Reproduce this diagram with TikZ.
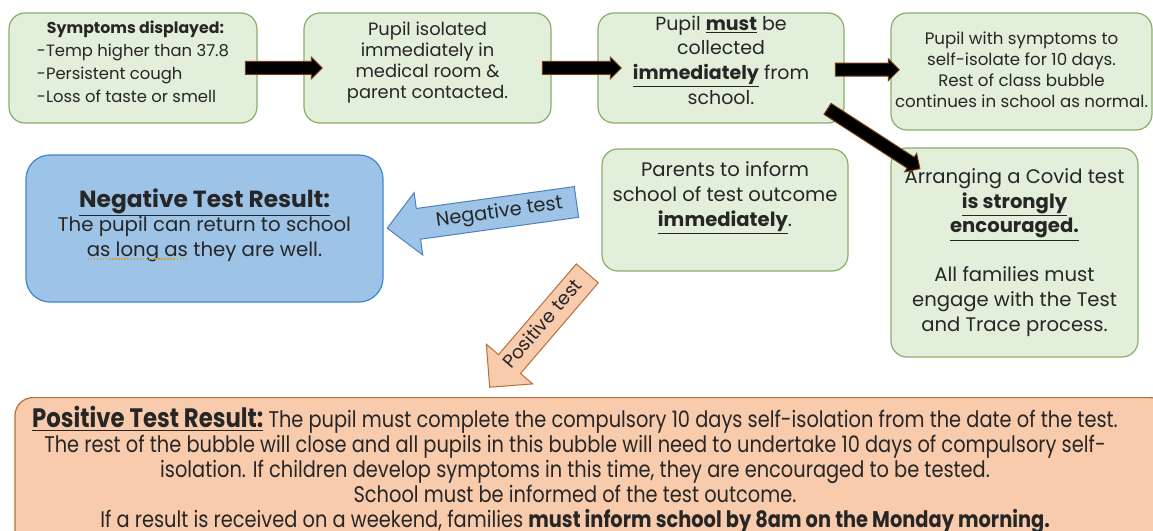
\documentclass[tikz,border=0pt]{standalone}
\usepackage{fontspec}
\setmainfont{Poppins}
\newfontfamily\narrowfont[FakeStretch=0.855]{Poppins}
\usetikzlibrary{shapes.arrows}

\newlength{\px}\setlength{\px}{0.75pt}
\definecolor{gfill}{HTML}{E2EFDA}
\definecolor{gline}{HTML}{8AAE6A}
\definecolor{bfill}{HTML}{9DC3E6}
\definecolor{bline}{HTML}{3F87CF}
\definecolor{negline}{HTML}{4F81BD}
\definecolor{ofill}{HTML}{F8CBAD}
\definecolor{oline}{HTML}{B56F3E}
\definecolor{blkline}{HTML}{7A3B10}
\definecolor{spell}{HTML}{C8A040}
\definecolor{txt}{HTML}{262626}

% dotted spell-check line under a few words
\newcommand{\spellul}[1]{\setbox0\hbox{#1}\leavevmode\rlap{\copy0}\raisebox{-3.5\px}{\textcolor{spell}{\hbox to \wd0{\xleaders\hbox to 3\px{\hss\rule{1.5\px}{1.5\px}\hss}\hfill}}}}

\begin{document}
\begin{tikzpicture}[x=0.75pt,y=-0.75pt,
  gbox/.style={draw=gline, fill=gfill, line width=1.2\px, rounded corners=16\px, align=center, inner sep=0pt, text=txt},
  bbox/.style={draw=bline, fill=bfill, line width=1.2\px, rounded corners=24\px, align=center, inner sep=0pt, text=txt},
  obox/.style={draw=oline, fill=ofill, line width=1.2\px, rounded corners=18\px, inner xsep=0pt, text=txt},
  blk/.style={single arrow, draw=blkline, fill=black, line width=1\px, inner xsep=0pt, inner ysep=6\px, single arrow head extend=4.5\px, single arrow tip angle=90},
  negarr/.style={single arrow, shape border rotate=180, draw=negline, fill=bfill, line width=1\px, inner xsep=0pt, inner ysep=6\px, text height=14\px, text depth=4\px, single arrow head extend=16\px, single arrow tip angle=90, text=txt, font=\fontsize{14.5}{16}\selectfont},
  posarr/.style={single arrow, shape border rotate=180, draw=oline, fill=ofill, line width=1\px, inner xsep=0pt, inner ysep=5\px, text height=14\px, text depth=4\px, single arrow head extend=16\px, single arrow tip angle=90, text=txt, font=\fontsize{14}{16}\selectfont}]
\useasboundingbox (0,0) rectangle (1153,531);

% top row
\node[gbox, align=left, minimum width=248\px, minimum height=110\px, text depth=13\px, font=\fontsize{12.3}{17.25}\selectfont] (symptoms) at (133,68) {\hspace*{10\px}{\fontsize{11.8}{17.25}\selectfont\textbf{Symptoms displayed:}}\\-Temp higher than 37.8\\-Persistent cough\\-Loss of taste or smell};
\node[gbox, minimum width=247\px, minimum height=110\px, text depth=15\px, font=\fontsize{13.4}{15.75}\selectfont] (isolated) at (427.5,68) {Pupil isolated\\immediately in\\medical room \&\\parent contacted.};
\node[gbox, minimum width=246\px, minimum height=110\px, text depth=16\px, font=\fontsize{14.25}{18.4}\selectfont] (collect) at (721,68) {Pupil \underline{\textbf{must}} be\\collected\\\underline{\textbf{immediately}} from\\school.};
\node[gbox, minimum width=261\px, minimum height=117\px, text depth=4\px, font=\fontsize{12.5}{15.75}\selectfont] (selfiso) at (1021.5,71.5) {Pupil with symptoms to\\self-isolate for 10 days.\\Rest of class bubble\\continues in school as normal.};

% middle row
\node[bbox, minimum width=357\px, minimum height=147\px, text depth=12\px, font=\fontsize{14.8}{18.4}\selectfont] (negbox) at (204.5,228.5) {{\fontsize{17.5}{18.4}\selectfont\underline{\textbf{Negative Test Result:}}}\\The pupil can return to school\\\spellul{as long as} they are well.};
\node[gbox, minimum width=246\px, minimum height=122\px, text depth=32\px, font=\fontsize{14.7}{18.4}\selectfont] (parents) at (725,210) {Parents to inform\\school of test outcome\\\underline{\textbf{immediately}}.};
\node[gbox, minimum width=247\px, minimum height=209\px, text depth=5\px, font=\fontsize{14.7}{18.4}\selectfont] (arrange) at (1014.5,252.5) {Arranging a Covid test\\\underline{\textbf{is strongly}}\\\underline{\textbf{encouraged.}}\\[24.5\px]All families must\\engage with the Test\\and Trace process.};

% bottom box
\node[obox, anchor=north, minimum width=1153\px, inner ysep=9\px, text depth=120\px, font=\narrowfont\fontsize{17}{18.75}\selectfont] (posbox) at (591.5,397) {\begin{minipage}{1110\px}\centering
{\fontsize{20}{18.75}\selectfont\underline{\textbf{Positive Test Result:}}} The pupil must complete the compulsory 10 days self-isolation from the date of the test.\\
The rest of the bubble will close and all pupils in this bubble will need to undertake 10 days of compulsory self-\\
isolation. If children develop symptoms in this time, they are encouraged to be tested.\\
School must be informed of the test outcome.\\
If a result is received on a weekend, families \underline{\textbf{must inform school by 8am on the Monday morning.}}
\end{minipage}\hbox to 33\px{}};

% arrows
\path (symptoms.east) -- node[blk, minimum height=77\px] {} (isolated.west);
\path (isolated.east) -- node[blk, xshift=4\px, minimum height=79\px] {} (collect.west);
\path (collect.east) -- node[blk, xshift=-3.5\px, minimum height=64\px] {} (selfiso.west);
\path ([shift={(-19,-16)}]collect.south east) -- node[blk, sloped, minimum height=110\px] {} ([shift={(26,19)}]arrange.north west);
\path ([shift={(-18,-9)}]parents.west) -- node[negarr, sloped, minimum height=191\px] {\hspace*{20\px}Negative test} ([shift={(12,-1.5)}]negbox.east);
\path ([shift={(-10,-3)}]parents.south west) -- node[posarr, sloped, minimum height=150\px] {Positive test} ([shift={(-96.5,-16)}]posbox.north);
\end{tikzpicture}
\end{document}
